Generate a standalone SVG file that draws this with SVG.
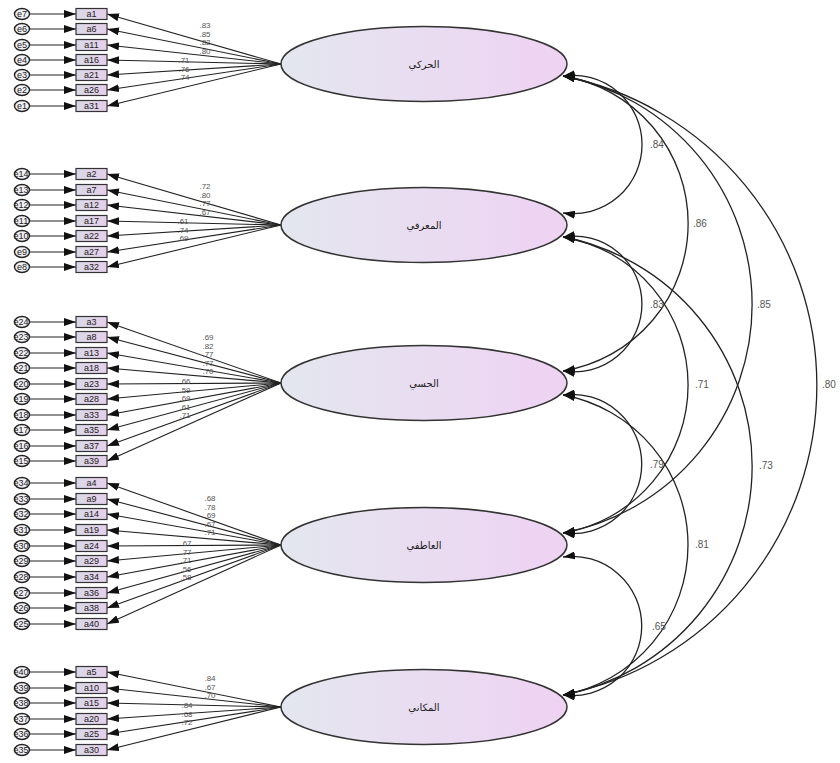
<svg xmlns="http://www.w3.org/2000/svg" width="840" height="763" viewBox="0 0 840 763">
<style>
.bg{fill:#ffffff}
.lat{stroke:#333;stroke-width:1.5;fill:url(#lg)}
.box{stroke:#333;stroke-width:1.2;fill:url(#bg)}
.err{stroke:#222;stroke-width:1.4;fill:#f2f0f5}
.bt{font-family:"Liberation Sans",Arial,sans-serif;font-size:9px;fill:#222;text-anchor:middle}
.et{font-family:"Liberation Sans",Arial,sans-serif;font-size:9px;fill:#222;text-anchor:middle}
.lt{font-family:"DejaVu Sans",sans-serif;font-size:10px;fill:#222;text-anchor:middle}
.ld{font-family:"Liberation Sans",Arial,sans-serif;font-size:8px;fill:#555;text-anchor:middle}
.cv{font-family:"Liberation Sans",Arial,sans-serif;font-size:10px;fill:#555}
.ar{stroke:#222;stroke-width:1.1;fill:none;marker-end:url(#ah)}
.arc{stroke:#222;stroke-width:1.3;fill:none;marker-end:url(#ah);marker-start:url(#ahs)}
</style>
<defs>
<linearGradient id="lg" x1="0" y1="0" x2="1" y2="0"><stop offset="0" stop-color="#e3e7ef"/><stop offset="1" stop-color="#efd2f3"/></linearGradient>
<linearGradient id="bg" x1="0" y1="0" x2="1" y2="0"><stop offset="0" stop-color="#d9d9e8"/><stop offset="1" stop-color="#e6cfe9"/></linearGradient>
<marker id="ah" viewBox="0 0 12 8" refX="12" refY="4" markerWidth="12" markerHeight="8" markerUnits="userSpaceOnUse" orient="auto"><path d="M0,0 L12,4 L0,8 z" fill="#111"/></marker>
<marker id="ahs" viewBox="0 0 12 8" refX="12" refY="4" markerWidth="12" markerHeight="8" markerUnits="userSpaceOnUse" orient="auto-start-reverse"><path d="M0,0 L12,4 L0,8 z" fill="#111"/></marker>
</defs>
<rect class="bg" x="0" y="0" width="840" height="763"/>

<g id="connectors">
<g id="error-arrows">
<line class="ar" x1="29.5" y1="14" x2="76" y2="14"/><line class="ar" x1="29.5" y1="29" x2="76" y2="29"/><line class="ar" x1="29.5" y1="45" x2="76" y2="45"/><line class="ar" x1="29.5" y1="60" x2="76" y2="60"/><line class="ar" x1="29.5" y1="75" x2="76" y2="75"/><line class="ar" x1="29.5" y1="90" x2="76" y2="90"/><line class="ar" x1="29.5" y1="106" x2="76" y2="106"/>
<line class="ar" x1="29.5" y1="174" x2="76" y2="174"/><line class="ar" x1="29.5" y1="190" x2="76" y2="190"/><line class="ar" x1="29.5" y1="205" x2="76" y2="205"/><line class="ar" x1="29.5" y1="221" x2="76" y2="221"/><line class="ar" x1="29.5" y1="236" x2="76" y2="236"/><line class="ar" x1="29.5" y1="252" x2="76" y2="252"/><line class="ar" x1="29.5" y1="267" x2="76" y2="267"/>
<line class="ar" x1="29.5" y1="322" x2="76" y2="322"/><line class="ar" x1="29.5" y1="337" x2="76" y2="337"/><line class="ar" x1="29.5" y1="353" x2="76" y2="353"/><line class="ar" x1="29.5" y1="368" x2="76" y2="368"/><line class="ar" x1="29.5" y1="384" x2="76" y2="384"/><line class="ar" x1="29.5" y1="399" x2="76" y2="399"/><line class="ar" x1="29.5" y1="415" x2="76" y2="415"/><line class="ar" x1="29.5" y1="430" x2="76" y2="430"/><line class="ar" x1="29.5" y1="446" x2="76" y2="446"/><line class="ar" x1="29.5" y1="461" x2="76" y2="461"/>
<line class="ar" x1="29.5" y1="483" x2="76" y2="483"/><line class="ar" x1="29.5" y1="499" x2="76" y2="499"/><line class="ar" x1="29.5" y1="514" x2="76" y2="514"/><line class="ar" x1="29.5" y1="530" x2="76" y2="530"/><line class="ar" x1="29.5" y1="546" x2="76" y2="546"/><line class="ar" x1="29.5" y1="561" x2="76" y2="561"/><line class="ar" x1="29.5" y1="577" x2="76" y2="577"/><line class="ar" x1="29.5" y1="593" x2="76" y2="593"/><line class="ar" x1="29.5" y1="608" x2="76" y2="608"/><line class="ar" x1="29.5" y1="624" x2="76" y2="624"/>
<line class="ar" x1="29.5" y1="672" x2="76" y2="672"/><line class="ar" x1="29.5" y1="688" x2="76" y2="688"/><line class="ar" x1="29.5" y1="703" x2="76" y2="703"/><line class="ar" x1="29.5" y1="719" x2="76" y2="719"/><line class="ar" x1="29.5" y1="734" x2="76" y2="734"/><line class="ar" x1="29.5" y1="750" x2="76" y2="750"/>
</g>
<g id="loading-arrows">
<line class="ar" x1="281" y1="64" x2="107" y2="14"/><line class="ar" x1="281" y1="64" x2="107" y2="29"/><line class="ar" x1="281" y1="64" x2="107" y2="45"/><line class="ar" x1="281" y1="64" x2="107" y2="60"/><line class="ar" x1="281" y1="64" x2="107" y2="75"/><line class="ar" x1="281" y1="64" x2="107" y2="90"/><line class="ar" x1="281" y1="64" x2="107" y2="106"/>
<line class="ar" x1="281" y1="225" x2="107" y2="174"/><line class="ar" x1="281" y1="225" x2="107" y2="190"/><line class="ar" x1="281" y1="225" x2="107" y2="205"/><line class="ar" x1="281" y1="225" x2="107" y2="221"/><line class="ar" x1="281" y1="225" x2="107" y2="236"/><line class="ar" x1="281" y1="225" x2="107" y2="252"/><line class="ar" x1="281" y1="225" x2="107" y2="267"/>
<line class="ar" x1="281" y1="383" x2="107" y2="322"/><line class="ar" x1="281" y1="383" x2="107" y2="337"/><line class="ar" x1="281" y1="383" x2="107" y2="353"/><line class="ar" x1="281" y1="383" x2="107" y2="368"/><line class="ar" x1="281" y1="383" x2="107" y2="384"/><line class="ar" x1="281" y1="383" x2="107" y2="399"/><line class="ar" x1="281" y1="383" x2="107" y2="415"/><line class="ar" x1="281" y1="383" x2="107" y2="430"/><line class="ar" x1="281" y1="383" x2="107" y2="446"/><line class="ar" x1="281" y1="383" x2="107" y2="461"/>
<line class="ar" x1="281" y1="545" x2="107" y2="483"/><line class="ar" x1="281" y1="545" x2="107" y2="499"/><line class="ar" x1="281" y1="545" x2="107" y2="514"/><line class="ar" x1="281" y1="545" x2="107" y2="530"/><line class="ar" x1="281" y1="545" x2="107" y2="546"/><line class="ar" x1="281" y1="545" x2="107" y2="561"/><line class="ar" x1="281" y1="545" x2="107" y2="577"/><line class="ar" x1="281" y1="545" x2="107" y2="593"/><line class="ar" x1="281" y1="545" x2="107" y2="608"/><line class="ar" x1="281" y1="545" x2="107" y2="624"/>
<line class="ar" x1="281" y1="707" x2="107" y2="672"/><line class="ar" x1="281" y1="707" x2="107" y2="688"/><line class="ar" x1="281" y1="707" x2="107" y2="703"/><line class="ar" x1="281" y1="707" x2="107" y2="719"/><line class="ar" x1="281" y1="707" x2="107" y2="734"/><line class="ar" x1="281" y1="707" x2="107" y2="750"/>
</g>
<g id="loading-labels">
<text class="ld" x="205" y="28">.83</text><text class="ld" x="205" y="36.5">.85</text><text class="ld" x="205" y="45">.82</text><text class="ld" x="205" y="53.5">.80</text><text class="ld" x="184" y="63">.71</text><text class="ld" x="184" y="71.5">.76</text><text class="ld" x="184" y="80">.74</text>
<text class="ld" x="205" y="189">.72</text><text class="ld" x="205" y="197.5">.80</text><text class="ld" x="205" y="206">.77</text><text class="ld" x="205" y="214.5">.67</text><text class="ld" x="183" y="224">.61</text><text class="ld" x="183" y="232.5">.74</text><text class="ld" x="183" y="241">.69</text>
<text class="ld" x="208" y="340">.69</text><text class="ld" x="208" y="348.5">.82</text><text class="ld" x="208" y="357">.77</text><text class="ld" x="208" y="365.5">.77</text><text class="ld" x="208" y="374">.70</text><text class="ld" x="185" y="384">.66</text><text class="ld" x="185" y="392.5">.59</text><text class="ld" x="185" y="401">.69</text><text class="ld" x="185" y="409.5">.61</text><text class="ld" x="185" y="418">.71</text>
<text class="ld" x="210" y="501">.68</text><text class="ld" x="210" y="509.5">.78</text><text class="ld" x="210" y="518">.69</text><text class="ld" x="210" y="526.5">.67</text><text class="ld" x="210" y="535">.71</text><text class="ld" x="186" y="546">.67</text><text class="ld" x="186" y="554.5">.77</text><text class="ld" x="186" y="563">.71</text><text class="ld" x="186" y="571.5">.56</text><text class="ld" x="186" y="580">.58</text>
<text class="ld" x="210" y="681">.84</text><text class="ld" x="210" y="689.5">.67</text><text class="ld" x="210" y="698">.70</text><text class="ld" x="187" y="708">.84</text><text class="ld" x="187" y="716.5">.68</text><text class="ld" x="187" y="725">.72</text>
</g>
<g id="covariances">
<path class="arc" d="M563,76 A69.2,69.2 0 1 1 563,213"/>
<path class="arc" d="M563,237 A67.9,67.9 0 1 1 563,371"/>
<path class="arc" d="M563,395 A69.6,69.6 0 1 1 563,533"/>
<path class="arc" d="M563,557 A69.6,69.6 0 1 1 563,695"/>
<path class="arc" d="M563,76 A149.5,149.5 0 0 1 563,371"/>
<path class="arc" d="M563,237 A150.1,150.1 0 0 1 563,533"/>
<path class="arc" d="M563,395 A152.5,152.5 0 0 1 563,695"/>
<path class="arc" d="M563,76 A232.6,232.6 0 0 1 563,533"/>
<path class="arc" d="M563,237 A233.2,233.2 0 0 1 563,695"/>
<path class="arc" d="M563,76 A315.6,315.6 0 0 1 563,695"/>
<text class="cv" x="650" y="148">.84</text>
<text class="cv" x="650" y="308">.83</text>
<text class="cv" x="650" y="468">.79</text>
<text class="cv" x="652" y="630">.65</text>
<text class="cv" x="693" y="227">.86</text>
<text class="cv" x="695" y="388">.71</text>
<text class="cv" x="695" y="548">.81</text>
<text class="cv" x="757" y="308">.85</text>
<text class="cv" x="759" y="469">.73</text>
<text class="cv" x="822" y="388">.80</text>
</g>
</g>

<g id="L1"><ellipse class="lat" cx="424" cy="64" rx="143" ry="37.5"/><text class="lt" x="424" y="68">الحركي</text></g>
<g id="L2"><ellipse class="lat" cx="424" cy="225" rx="143" ry="37.5"/><text class="lt" x="424" y="229">المعرفي</text></g>
<g id="L3"><ellipse class="lat" cx="424" cy="383" rx="143" ry="37.5"/><text class="lt" x="424" y="387">الحسي</text></g>
<g id="L4"><ellipse class="lat" cx="424" cy="545" rx="143" ry="37.5"/><text class="lt" x="424" y="549">العاطفي</text></g>
<g id="L5"><ellipse class="lat" cx="424" cy="707" rx="143" ry="37.5"/><text class="lt" x="424" y="711">المكاني</text></g>

<g id="a1"><rect class="box" x="76" y="8.5" width="31" height="11"/><text class="bt" x="91.5" y="17">a1</text></g>
<g id="a6"><rect class="box" x="76" y="23.5" width="31" height="11"/><text class="bt" x="91.5" y="32">a6</text></g>
<g id="a11"><rect class="box" x="76" y="39.5" width="31" height="11"/><text class="bt" x="91.5" y="48">a11</text></g>
<g id="a16"><rect class="box" x="76" y="54.5" width="31" height="11"/><text class="bt" x="91.5" y="63">a16</text></g>
<g id="a21"><rect class="box" x="76" y="69.5" width="31" height="11"/><text class="bt" x="91.5" y="78">a21</text></g>
<g id="a26"><rect class="box" x="76" y="84.5" width="31" height="11"/><text class="bt" x="91.5" y="93">a26</text></g>
<g id="a31"><rect class="box" x="76" y="100.5" width="31" height="11"/><text class="bt" x="91.5" y="109">a31</text></g>

<g id="a2"><rect class="box" x="76" y="168.5" width="31" height="11"/><text class="bt" x="91.5" y="177">a2</text></g>
<g id="a7"><rect class="box" x="76" y="184.5" width="31" height="11"/><text class="bt" x="91.5" y="193">a7</text></g>
<g id="a12"><rect class="box" x="76" y="199.5" width="31" height="11"/><text class="bt" x="91.5" y="208">a12</text></g>
<g id="a17"><rect class="box" x="76" y="215.5" width="31" height="11"/><text class="bt" x="91.5" y="224">a17</text></g>
<g id="a22"><rect class="box" x="76" y="230.5" width="31" height="11"/><text class="bt" x="91.5" y="239">a22</text></g>
<g id="a27"><rect class="box" x="76" y="246.5" width="31" height="11"/><text class="bt" x="91.5" y="255">a27</text></g>
<g id="a32"><rect class="box" x="76" y="261.5" width="31" height="11"/><text class="bt" x="91.5" y="270">a32</text></g>

<g id="a3"><rect class="box" x="76" y="316.5" width="31" height="11"/><text class="bt" x="91.5" y="325">a3</text></g>
<g id="a8"><rect class="box" x="76" y="331.5" width="31" height="11"/><text class="bt" x="91.5" y="340">a8</text></g>
<g id="a13"><rect class="box" x="76" y="347.5" width="31" height="11"/><text class="bt" x="91.5" y="356">a13</text></g>
<g id="a18"><rect class="box" x="76" y="362.5" width="31" height="11"/><text class="bt" x="91.5" y="371">a18</text></g>
<g id="a23"><rect class="box" x="76" y="378.5" width="31" height="11"/><text class="bt" x="91.5" y="387">a23</text></g>
<g id="a28"><rect class="box" x="76" y="393.5" width="31" height="11"/><text class="bt" x="91.5" y="402">a28</text></g>
<g id="a33"><rect class="box" x="76" y="409.5" width="31" height="11"/><text class="bt" x="91.5" y="418">a33</text></g>
<g id="a35"><rect class="box" x="76" y="424.5" width="31" height="11"/><text class="bt" x="91.5" y="433">a35</text></g>
<g id="a37"><rect class="box" x="76" y="440.5" width="31" height="11"/><text class="bt" x="91.5" y="449">a37</text></g>
<g id="a39"><rect class="box" x="76" y="455.5" width="31" height="11"/><text class="bt" x="91.5" y="464">a39</text></g>

<g id="a4"><rect class="box" x="76" y="477.5" width="31" height="11"/><text class="bt" x="91.5" y="486">a4</text></g>
<g id="a9"><rect class="box" x="76" y="493.5" width="31" height="11"/><text class="bt" x="91.5" y="502">a9</text></g>
<g id="a14"><rect class="box" x="76" y="508.5" width="31" height="11"/><text class="bt" x="91.5" y="517">a14</text></g>
<g id="a19"><rect class="box" x="76" y="524.5" width="31" height="11"/><text class="bt" x="91.5" y="533">a19</text></g>
<g id="a24"><rect class="box" x="76" y="540.5" width="31" height="11"/><text class="bt" x="91.5" y="549">a24</text></g>
<g id="a29"><rect class="box" x="76" y="555.5" width="31" height="11"/><text class="bt" x="91.5" y="564">a29</text></g>
<g id="a34"><rect class="box" x="76" y="571.5" width="31" height="11"/><text class="bt" x="91.5" y="580">a34</text></g>
<g id="a36"><rect class="box" x="76" y="587.5" width="31" height="11"/><text class="bt" x="91.5" y="596">a36</text></g>
<g id="a38"><rect class="box" x="76" y="602.5" width="31" height="11"/><text class="bt" x="91.5" y="611">a38</text></g>
<g id="a40"><rect class="box" x="76" y="618.5" width="31" height="11"/><text class="bt" x="91.5" y="627">a40</text></g>

<g id="a5"><rect class="box" x="76" y="666.5" width="31" height="11"/><text class="bt" x="91.5" y="675">a5</text></g>
<g id="a10"><rect class="box" x="76" y="682.5" width="31" height="11"/><text class="bt" x="91.5" y="691">a10</text></g>
<g id="a15"><rect class="box" x="76" y="697.5" width="31" height="11"/><text class="bt" x="91.5" y="706">a15</text></g>
<g id="a20"><rect class="box" x="76" y="713.5" width="31" height="11"/><text class="bt" x="91.5" y="722">a20</text></g>
<g id="a25"><rect class="box" x="76" y="728.5" width="31" height="11"/><text class="bt" x="91.5" y="737">a25</text></g>
<g id="a30"><rect class="box" x="76" y="744.5" width="31" height="11"/><text class="bt" x="91.5" y="753">a30</text></g>

<g id="e7"><ellipse class="err" cx="22" cy="14" rx="7.5" ry="5.5"/><text class="et" x="22" y="17.2">e7</text></g>
<g id="e6"><ellipse class="err" cx="22" cy="29" rx="7.5" ry="5.5"/><text class="et" x="22" y="32.2">e6</text></g>
<g id="e5"><ellipse class="err" cx="22" cy="45" rx="7.5" ry="5.5"/><text class="et" x="22" y="48.2">e5</text></g>
<g id="e4"><ellipse class="err" cx="22" cy="60" rx="7.5" ry="5.5"/><text class="et" x="22" y="63.2">e4</text></g>
<g id="e3"><ellipse class="err" cx="22" cy="75" rx="7.5" ry="5.5"/><text class="et" x="22" y="78.2">e3</text></g>
<g id="e2"><ellipse class="err" cx="22" cy="90" rx="7.5" ry="5.5"/><text class="et" x="22" y="93.2">e2</text></g>
<g id="e1"><ellipse class="err" cx="22" cy="106" rx="7.5" ry="5.5"/><text class="et" x="22" y="109.2">e1</text></g>

<g id="e14"><ellipse class="err" cx="22" cy="174" rx="7.5" ry="5.5"/><text class="et" x="21" y="177.2">e14</text></g>
<g id="e13"><ellipse class="err" cx="22" cy="190" rx="7.5" ry="5.5"/><text class="et" x="21" y="193.2">e13</text></g>
<g id="e12"><ellipse class="err" cx="22" cy="205" rx="7.5" ry="5.5"/><text class="et" x="21" y="208.2">e12</text></g>
<g id="e11"><ellipse class="err" cx="22" cy="221" rx="7.5" ry="5.5"/><text class="et" x="21" y="224.2">e11</text></g>
<g id="e10"><ellipse class="err" cx="22" cy="236" rx="7.5" ry="5.5"/><text class="et" x="21" y="239.2">e10</text></g>
<g id="e9"><ellipse class="err" cx="22" cy="252" rx="7.5" ry="5.5"/><text class="et" x="22" y="255.2">e9</text></g>
<g id="e8"><ellipse class="err" cx="22" cy="267" rx="7.5" ry="5.5"/><text class="et" x="22" y="270.2">e8</text></g>

<g id="e24"><ellipse class="err" cx="22" cy="322" rx="7.5" ry="5.5"/><text class="et" x="21" y="325.2">e24</text></g>
<g id="e23"><ellipse class="err" cx="22" cy="337" rx="7.5" ry="5.5"/><text class="et" x="21" y="340.2">e23</text></g>
<g id="e22"><ellipse class="err" cx="22" cy="353" rx="7.5" ry="5.5"/><text class="et" x="21" y="356.2">e22</text></g>
<g id="e21"><ellipse class="err" cx="22" cy="368" rx="7.5" ry="5.5"/><text class="et" x="21" y="371.2">e21</text></g>
<g id="e20"><ellipse class="err" cx="22" cy="384" rx="7.5" ry="5.5"/><text class="et" x="21" y="387.2">e20</text></g>
<g id="e19"><ellipse class="err" cx="22" cy="399" rx="7.5" ry="5.5"/><text class="et" x="21" y="402.2">e19</text></g>
<g id="e18"><ellipse class="err" cx="22" cy="415" rx="7.5" ry="5.5"/><text class="et" x="21" y="418.2">e18</text></g>
<g id="e17"><ellipse class="err" cx="22" cy="430" rx="7.5" ry="5.5"/><text class="et" x="21" y="433.2">e17</text></g>
<g id="e16"><ellipse class="err" cx="22" cy="446" rx="7.5" ry="5.5"/><text class="et" x="21" y="449.2">e16</text></g>
<g id="e15"><ellipse class="err" cx="22" cy="461" rx="7.5" ry="5.5"/><text class="et" x="21" y="464.2">e15</text></g>

<g id="e34"><ellipse class="err" cx="22" cy="483" rx="7.5" ry="5.5"/><text class="et" x="21" y="486.2">e34</text></g>
<g id="e33"><ellipse class="err" cx="22" cy="499" rx="7.5" ry="5.5"/><text class="et" x="21" y="502.2">e33</text></g>
<g id="e32"><ellipse class="err" cx="22" cy="514" rx="7.5" ry="5.5"/><text class="et" x="21" y="517.2">e32</text></g>
<g id="e31"><ellipse class="err" cx="22" cy="530" rx="7.5" ry="5.5"/><text class="et" x="21" y="533.2">e31</text></g>
<g id="e30"><ellipse class="err" cx="22" cy="546" rx="7.5" ry="5.5"/><text class="et" x="21" y="549.2">e30</text></g>
<g id="e29"><ellipse class="err" cx="22" cy="561" rx="7.5" ry="5.5"/><text class="et" x="21" y="564.2">e29</text></g>
<g id="e28"><ellipse class="err" cx="22" cy="577" rx="7.5" ry="5.5"/><text class="et" x="21" y="580.2">e28</text></g>
<g id="e27"><ellipse class="err" cx="22" cy="593" rx="7.5" ry="5.5"/><text class="et" x="21" y="596.2">e27</text></g>
<g id="e26"><ellipse class="err" cx="22" cy="608" rx="7.5" ry="5.5"/><text class="et" x="21" y="611.2">e26</text></g>
<g id="e25"><ellipse class="err" cx="22" cy="624" rx="7.5" ry="5.5"/><text class="et" x="21" y="627.2">e25</text></g>

<g id="e40"><ellipse class="err" cx="22" cy="672" rx="7.5" ry="5.5"/><text class="et" x="21" y="675.2">e40</text></g>
<g id="e39"><ellipse class="err" cx="22" cy="688" rx="7.5" ry="5.5"/><text class="et" x="21" y="691.2">e39</text></g>
<g id="e38"><ellipse class="err" cx="22" cy="703" rx="7.5" ry="5.5"/><text class="et" x="21" y="706.2">e38</text></g>
<g id="e37"><ellipse class="err" cx="22" cy="719" rx="7.5" ry="5.5"/><text class="et" x="21" y="722.2">e37</text></g>
<g id="e36"><ellipse class="err" cx="22" cy="734" rx="7.5" ry="5.5"/><text class="et" x="21" y="737.2">e36</text></g>
<g id="e35"><ellipse class="err" cx="22" cy="750" rx="7.5" ry="5.5"/><text class="et" x="21" y="753.2">e35</text></g>
</svg>
